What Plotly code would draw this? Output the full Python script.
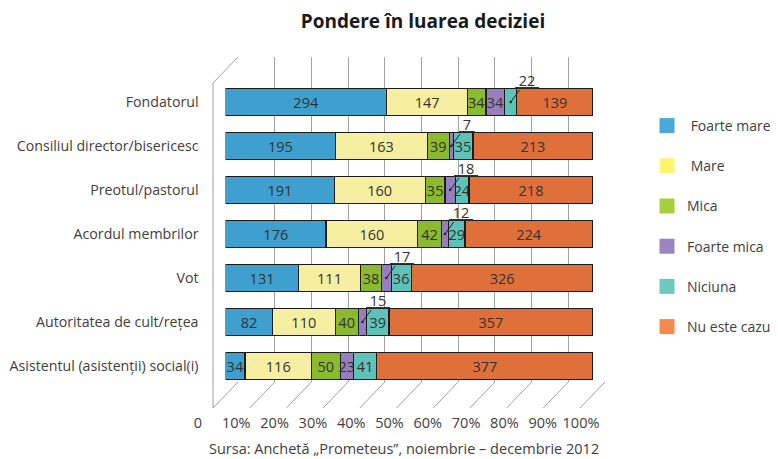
import plotly.graph_objects as go

# ---------------- data ----------------
categories = [
    "Fondatorul",
    "Consiliul director/bisericesc",
    "Preotul/pastorul",
    "Acordul membrilor",
    "Vot",
    "Autoritatea de cult/rețea",
    "Asistentul (asistenții) social(i)",
]
series_names = ["Foarte mare", "Mare", "Mica", "Foarte mica", "Niciuna", "Nu este cazul"]
foarte_mare = [294, 195, 191, 176, 131, 82, 34]
mare = [147, 163, 160, 160, 111, 110, 116]
mica = [34, 39, 35, 42, 38, 40, 50]
foarte_mica = [34, 7, 18, 12, 17, 15, 23]
niciuna = [22, 35, 24, 29, 36, 39, 41]
nu_este_cazul = [139, 213, 218, 224, 326, 357, 377]
series_values = [foarte_mare, mare, mica, foarte_mica, niciuna, nu_este_cazul]
tick_values = list(range(0, 101, 10))
tick_labels = ["0"] + [f"{v}%" for v in tick_values[1:]]
# labels drawn outside the bar with a leader line (category, series)
callouts = [
    ("Fondatorul", "Niciuna"),
    ("Consiliul director/bisericesc", "Foarte mica"),
    ("Preotul/pastorul", "Foarte mica"),
    ("Acordul membrilor", "Foarte mica"),
    ("Vot", "Foarte mica"),
    ("Autoritatea de cult/rețea", "Foarte mica"),
]

# ---------------- styles ----------------
bar_colors = ["#3f9fcf", "#f6efa2", "#8cba2f", "#977fbe", "#5ec2b9", "#e0703a"]
legend_colors = ["#4aa8d8", "#fff46e", "#a6cf3c", "#9b85c1", "#6ec9bd", "#f5884c"]
FONT = "Open Sans"
PAGE_OFF = 8            # default body margin of the html page
W, H = 778 - PAGE_OFF, 459 - PAGE_OFF


def fx(p):
    """screen pixel x -> paper fraction"""
    return (p - PAGE_OFF) / W


def fy(p):
    """screen pixel y -> paper fraction"""
    return 1 - (p - PAGE_OFF) / H


fig = go.Figure()

# bars (on x2/y2 so they are drawn above the back-wall grid of x/y)
for name, vals, col in zip(series_names, series_values, bar_colors):
    texts = []
    for cat, v in zip(categories, vals):
        texts.append("" if (cat, name) in callouts else str(v))
    fig.add_trace(go.Bar(
        y=categories, x=vals, name=name, orientation="h",
        xaxis="x2", yaxis="y2",
        marker=dict(color=col, line=dict(color="#1a1a1a", width=1.2)),
        text=texts, textposition="inside", insidetextanchor="middle",
        textangle=0, constraintext="none",
        textfont=dict(family=FONT, size=14.5, color="#333333"),
        showlegend=False, hoverinfo="x+y+name",
    ))

# legend-only entries (on the back-wall subplot)
legend_labels = [" Foarte mare", " Mare", "Mica", "Foarte mica", "Niciuna", "Nu este cazul"]
for i, (lab, col) in enumerate(zip(legend_labels, legend_colors)):
    fig.add_trace(go.Scatter(
        x=[None], y=[None], mode="markers", name=lab,
        marker=dict(symbol="square", size=15, color=col),
        legendgroup=f"g{i}", xaxis="x", yaxis="y",
    ))

# empty helper trace so the floor tick-label axis gets drawn
fig.add_trace(go.Scatter(x=[None], y=[None], xaxis="x3", yaxis="y3",
                         showlegend=False, hoverinfo="skip"))

# callout annotations
totals = [sum(v[i] for v in series_values) for i in range(len(categories))]
annotations = []
for cat, ser in callouts:
    ci = categories.index(cat)
    si = series_names.index(ser)
    before = sum(series_values[k][ci] for k in range(si))
    val = series_values[si][ci]
    xmid = 100 * (before + val / 2) / totals[ci]
    annotations.append(dict(
        x=xmid, y=cat, xref="x2", yref="y2",
        text="<u>\u00a0" + str(val) + "\u00a0</u>",
        showarrow=True, arrowhead=6, arrowsize=0.6, arrowwidth=1,
        arrowcolor="#222222", ax=16, ay=-22, standoff=0, borderpad=0,
        font=dict(family=FONT, size=14.5, color="#333333"),
    ))
annotations.append(dict(
    text="Sursa: Anchetă „Prometeus”, noiembrie – decembrie 2012",
    x=fx(404), y=fy(448), xref="paper", yref="paper", showarrow=False,
    xanchor="center", yanchor="middle",
    font=dict(family=FONT, size=14.5, color="#404040"),
))

# 3D frame decorations: left wall and floor diagonals
depth_dx, depth_dy = 25, 26
wall_left, wall_bottom, wall_top = 213, 408, 83
grid_step_px = (605 - 238) / 10
line_style = dict(color="#a0a0a0", width=1)
shapes = [
    dict(type="line", xref="paper", yref="paper", x0=fx(wall_left), y0=fy(wall_bottom),
         x1=fx(wall_left), y1=fy(wall_top), line=line_style, layer="below"),
    dict(type="line", xref="paper", yref="paper", x0=fx(wall_left), y0=fy(wall_top),
         x1=fx(wall_left + depth_dx), y1=fy(wall_top - depth_dy), line=line_style, layer="below"),
]
for k in range(len(tick_values)):
    x0 = wall_left + k * grid_step_px
    shapes.append(dict(type="line", xref="paper", yref="paper", x0=fx(x0), y0=fy(wall_bottom),
                       x1=fx(x0 + depth_dx), y1=fy(wall_bottom - depth_dy),
                       line=line_style, layer="below"))

fig.update_layout(
    width=W, height=H, autosize=False,
    margin=dict(l=0, r=0, t=0, b=0, autoexpand=False),
    paper_bgcolor="white", plot_bgcolor="rgba(0,0,0,0)",
    barmode="stack", barnorm="percent", bargap=0.38,
    font=dict(family=FONT, size=14, color="#404040"),
    title=dict(text="<b>Pondere în luarea deciziei</b>", x=fx(423), xanchor="center",
               y=fy(21.5), yanchor="middle",
               font=dict(family=FONT, size=19, color="#1a1a1a")),
    # back wall grid
    xaxis=dict(domain=[fx(238), fx(605)], range=[0, 100], tickvals=tick_values,
               showgrid=True, gridcolor="#a0a0a0", gridwidth=1, showticklabels=False,
               zeroline=False, showline=False, ticks="", anchor="y", fixedrange=True,
               automargin=False),
    yaxis=dict(domain=[fy(382), fy(57)], range=[0, 1], visible=False, anchor="x",
               automargin=False),
    # bars
    xaxis2=dict(domain=[fx(225.5), fx(593)], range=[0, 100], visible=False, anchor="y2",
                automargin=False),
    yaxis2=dict(domain=[fy(388), fy(80)], categoryorder="array", categoryarray=categories,
                autorange="reversed", anchor="x2", showgrid=False, showline=False,
                zeroline=False, ticks="", ticklabelstandoff=26, automargin=False,
                tickfont=dict(family=FONT, size=14.2, color="#404040")),
    # tick labels on the floor front
    xaxis3=dict(domain=[fx(198), fx(581)], range=[0, 100], tickvals=tick_values,
                ticktext=tick_labels, showgrid=False, zeroline=False, showline=False,
                ticks="", anchor="y3", automargin=False,
                tickfont=dict(family=FONT, size=14.5, color="#404040")),
    yaxis3=dict(domain=[fy(412), fy(411)], range=[0, 1], visible=False, anchor="x3",
                automargin=False),
    legend=dict(x=fx(647), y=fy(110), xanchor="left", yanchor="top",
                tracegroupgap=19, font=dict(family=FONT, size=14, color="#404040"),
                bgcolor="rgba(0,0,0,0)", itemclick=False),
    shapes=shapes,
    annotations=annotations,
)

fig.write_html("out.html")
